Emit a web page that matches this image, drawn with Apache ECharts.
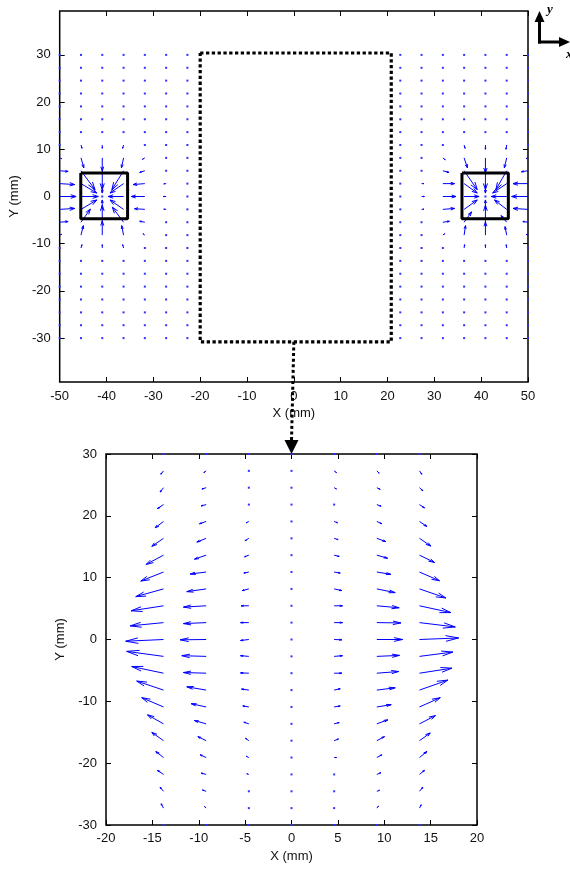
<!DOCTYPE html>
<html><head><meta charset="utf-8">
<script src="https://cdn.jsdelivr.net/npm/echarts@6/dist/echarts.min.js"></script>
<style>html,body{margin:0;padding:0;background:#fff;}#c{width:570px;height:869px;}</style>
</head><body><div id="c"></div>
<script>
// ---------------- DATA ----------------
const rowsY = [30, 27.27, 24.55, 21.82, 19.09, 16.36, 13.64, 10.91, 8.18, 5.45, 2.73, 0, -2.73, -5.45, -8.18, -10.91, -13.64, -16.36, -19.09, -21.82, -24.55, -27.27, -30];
const topColsX = [-50, -45.45, -40.91, -36.36, -31.82, -27.27, -22.73, 22.73, 27.27, 31.82, 36.36, 40.91, 45.45, 50];
// [x, y, u, v] vectors around the left source
const topArrowsLeft = [
  [-50, 10.91, 0.3, -0.1], [-50, 8.18, 0.4, -0.15], [-50, 5.45, 1.8, -0.15], [-50, 2.73, 3.2, -0.2], [-50, 0, 3.5, 0],
  [-50, -2.73, 3.2, 0.2], [-50, -5.45, 1.8, 0.15], [-50, -8.18, 0.4, 0.15], [-50, -10.91, 0.3, 0.1],
  [-45.45, 10.91, 0.2, -0.7], [-45.45, 8.18, 0.6, -2.1], [-45.45, 5.45, 3.0, -4.0], [-45.45, 2.73, 3.4, -2.0], [-45.45, 0, 3.7, 0],
  [-45.45, -2.73, 3.4, 2.0], [-45.45, -5.45, 2.0, 2.8], [-45.45, -8.18, 0.5, 2.0], [-45.45, -10.91, 0.2, 0.7],
  [-40.91, 13.64, 0, -0.3], [-40.91, 10.91, 0, -0.7], [-40.91, 8.18, 0, -2.8], [-40.91, 5.45, 0, -4.0], [-40.91, 2.73, 0, -2.0],
  [-40.91, 0, 0.2, 0.2], [-40.91, -2.73, 0, 2.0], [-40.91, -5.45, 0, 3.6], [-40.91, -8.18, 0, 3.0], [-40.91, -10.91, 0, 0.7], [-40.91, -13.64, 0, 0.3],
  [-36.36, 10.91, -0.2, -0.7], [-36.36, 8.18, -0.45, -2.1], [-36.36, 5.45, -2.5, -4.0], [-36.36, 2.73, -2.9, -2.0], [-36.36, 0, -3.3, 0],
  [-36.36, -2.73, -2.9, 2.0], [-36.36, -5.45, -2.4, 3.2], [-36.36, -8.18, -0.4, 2.0], [-36.36, -10.91, -0.2, 0.7],
  [-31.82, 10.91, -0.2, -0.1], [-31.82, 8.18, -0.5, -0.3], [-31.82, 5.45, -1.1, -0.35], [-31.82, 2.73, -2.5, -0.2], [-31.82, 0, -2.9, 0],
  [-31.82, -2.73, -2.2, 0.15], [-31.82, -5.45, -1.1, 0.2], [-31.82, -8.18, -0.4, 0.3], [-31.82, -10.91, -0.2, 0.1],
  [-27.27, 5.45, -0.3, -0.1], [-27.27, 2.73, -0.5, -0.05], [-27.27, 0, -0.6, 0], [-27.27, -2.73, -0.5, 0.05], [-27.27, -5.45, -0.3, 0.1]
];
// [x, y, u, v] vectors around the right source
const topArrowsRight = [
  [50, 10.91, -0.3, -0.1], [50, 8.18, -0.4, -0.15], [50, 5.45, -1.4, -0.2], [50, 2.73, -3.2, 0], [50, 0, -3.5, 0],
  [50, -2.73, -3.2, 0.2], [50, -5.45, -1.1, 0.15], [50, -8.18, -0.4, 0.15], [50, -10.91, -0.3, 0.1],
  [45.45, 10.91, -0.15, -0.9], [45.45, 8.18, -0.5, -2.1], [45.45, 5.45, -2.3, -4.0], [45.45, 2.73, -3.0, -2.0], [45.45, 0, -3.3, 0],
  [45.45, -2.73, -2.6, 2.0], [45.45, -5.45, -1.2, 1.4], [45.45, -8.18, -0.35, 1.8], [45.45, -10.91, -0.1, 0.7],
  [40.91, 13.64, 0, -0.3], [40.91, 10.91, 0, -0.9], [40.91, 8.18, 0, -3.2], [40.91, 5.45, 0, -4.0], [40.91, 2.73, 0, -2.0],
  [40.91, 0, -0.2, 0.2], [40.91, -2.73, 0, 2.0], [40.91, -5.45, 0, 3.6], [40.91, -8.18, 0, 2.8], [40.91, -10.91, 0, 0.7], [40.91, -13.64, 0, 0.3],
  [36.36, 10.91, 0.2, -0.7], [36.36, 8.18, 0.7, -2.1], [36.36, 5.45, 2.8, -4.0], [36.36, 2.73, 2.8, -2.0], [36.36, 0, 3.2, 0],
  [36.36, -2.73, 2.8, 2.0], [36.36, -5.45, 1.6, 2.2], [36.36, -8.18, 0.3, 2.0], [36.36, -10.91, 0.1, 0.7],
  [31.82, 10.91, 0.2, -0.1], [31.82, 8.18, 0.5, -0.4], [31.82, 5.45, 1.3, -0.35], [31.82, 2.73, 2.5, 0], [31.82, 0, 2.8, 0],
  [31.82, -2.73, 2.5, 0.2], [31.82, -5.45, 1.4, 0.2], [31.82, -8.18, 0.4, 0.3], [31.82, -10.91, 0.2, 0.1],
  [27.27, 5.45, 0.3, -0.1], [27.27, 2.73, 0.5, 0], [27.27, 0, 0.6, 0], [27.27, -2.73, 0.5, 0.05], [27.27, -5.45, 0.3, 0.1]
];
const leftBox = [-45.5, -35.5, -4.7, 5.0];   // x0, x1, y0, y1
const rightBox = [35.9, 45.8, -4.7, 5.0];
const zoomRect = [-20, 20.8, -30.8, 30.4];
const topYTicks = [-30, -20, -10, 0, 10, 20, 30];

const lowColsX = [-13.8, -9.2, -4.6, 0, 4.6, 9.2, 13.8];
const lowU = [
  [-0.1, -0.29, -0.36, -0.65, -0.90, -1.26, -1.87, -2.45, -2.99, -3.49, -3.60, -4.08, -3.97, -3.43, -2.89, -2.35, -1.73, -1.26, -0.83, -0.65, -0.36, -0.25, -0.1],
  [-0.05, -0.25, -0.46, -0.54, -0.72, -1.01, -1.26, -1.73, -2.09, -2.45, -2.45, -2.81, -2.63, -2.45, -2.09, -1.62, -1.26, -0.90, -0.65, -0.54, -0.40, -0.18, -0.05],
  [-0.05, -0.1, -0.1, -0.11, -0.29, -0.40, -0.46, -0.54, -0.72, -0.83, -0.90, -0.90, -0.90, -0.90, -0.79, -0.65, -0.54, -0.36, -0.29, -0.22, -0.1, -0.05, -0.05],
  [0, 0, 0, 0, 0, 0, 0, 0, 0, 0, 0, 0, 0, 0, 0, 0, 0, 0, 0, 0, 0, 0, 0],
  [0.05, 0.25, 0.25, 0.18, 0.36, 0.43, 0.54, 0.65, 0.83, 0.90, 0.90, 0.83, 0.90, 0.83, 0.65, 0.65, 0.54, 0.47, 0.25, 0.18, 0.1, 0.05, 0.05],
  [0.05, 0.25, 0.36, 0.46, 0.54, 0.97, 1.16, 1.51, 1.98, 2.41, 2.59, 2.78, 2.45, 2.35, 1.98, 1.55, 1.19, 0.83, 0.54, 0.43, 0.29, 0.18, 0.05],
  [0.1, 0.25, 0.36, 0.54, 0.79, 1.22, 1.62, 2.16, 2.84, 3.38, 3.86, 4.22, 3.60, 3.49, 3.06, 2.24, 1.73, 1.16, 0.79, 0.54, 0.36, 0.18, 0.1]
];
const lowV = [
  [-0.2, -0.54, -0.70, -0.65, -1.02, -1.29, -1.50, -1.46, -1.25, -0.81, -0.53, -0.28, 0.81, 1.08, 1.46, 1.50, 1.46, 1.34, 0.97, 0.65, 0.65, 0.70, 0.2],
  [-0.05, -0.27, -0.21, -0.21, -0.37, -0.60, -0.65, -0.32, -0.44, -0.21, -0.16, -0.05, 0.11, 0.11, 0.53, 0.53, 0.53, 0.65, 0.44, 0.21, 0.21, 0.27, 0.05],
  [0, -0.05, -0.05, -0.1, -0.21, -0.37, -0.27, -0.16, -0.27, 0, 0, -0.16, 0.11, 0.05, 0.16, 0.16, 0.27, 0.37, 0.21, 0.11, 0.05, 0.05, 0],
  [0, 0, 0, 0, 0, 0, 0, 0, 0, 0, 0, 0, 0, 0, 0, 0, 0, 0, 0, 0, 0, 0, 0],
  [0, -0.27, -0.21, -0.05, -0.21, -0.21, -0.21, -0.16, -0.27, 0, 0, -0.05, 0.11, 0, 0.21, 0.16, 0.21, 0.27, 0, 0.05, 0, 0, 0],
  [-0.05, -0.37, -0.27, -0.27, -0.37, -0.53, -0.49, -0.37, -0.60, -0.32, -0.05, 0, 0.16, 0.27, 0.37, 0.37, 0.65, 0.65, 0.44, 0.27, 0.16, 0.32, 0.05],
  [-0.2, -0.54, -0.49, -0.54, -0.81, -1.25, -1.18, -1.41, -1.46, -1.1, -0.70, 0.25, 0.70, 0.81, 1.62, 1.50, 1.34, 1.25, 0.97, 0.65, 0.65, 0.54, 0.2]
];

// ---------------- BUILD ----------------
const FONT = 'Liberation Sans, Arial, Helvetica, sans-serif';
const lookup = {};
topArrowsLeft.concat(topArrowsRight).forEach(a => { lookup[a[0] + '|' + a[1]] = a; });
const topData = [];
topColsX.forEach(x => rowsY.forEach(y => {
  const a = lookup[x + '|' + y];
  topData.push(a ? a.slice() : [x, y, 0, 0]);
}));
const lowData = [];
lowColsX.forEach((x, i) => rowsY.forEach((y, j) => lowData.push([x, y, lowU[i][j], lowV[i][j]])));

function quiverItem(params, api) {
  const x = api.value(0), y = api.value(1), u = api.value(2), v = api.value(3);
  const p0 = api.coord([x, y]);
  const p1 = api.coord([x + u, y + v]);
  const len = Math.hypot(p1[0] - p0[0], p1[1] - p0[1]);
  if (len < 2) {
    return { type: 'rect', shape: { x: p0[0] - 1, y: p0[1] - 1, width: 2, height: 2 }, style: { fill: '#3030ff' } };
  }
  const a = 0.33, b = 0.33;
  const h1 = api.coord([x + u - a * (u + b * v), y + v - a * (v - b * u)]);
  const h2 = api.coord([x + u - a * (u - b * v), y + v - a * (v + b * u)]);
  return { type: 'group', children: [
    { type: 'polyline', shape: { points: [p0, p1] }, style: { stroke: '#0000ff', lineWidth: 1, fill: null } },
    { type: 'polyline', shape: { points: [h1, p1, h2] }, style: { stroke: '#0000ff', lineWidth: 1, fill: null } }
  ]};
}
function rectLine(r) { return [[r[0], r[3]], [r[1], r[3]], [r[1], r[2]], [r[0], r[2]], [r[0], r[3]]]; }

const tick = { show: true, inside: true, length: 5, lineStyle: { color: '#000', width: 1 } };
const noLine = { show: false, onZero: false };
const lab = { color: '#111', fontSize: 13, fontFamily: FONT };
const nameStyle = { color: '#111', fontSize: 13, fontFamily: FONT };

const chart = echarts.init(document.getElementById('c'), null, { renderer: 'canvas' });
const option = {
  animation: false,
  backgroundColor: '#fff',
  grid: [
    { left: 56, top: 11, width: 472, height: 371, show: true, borderColor: '#000', borderWidth: 1.5, backgroundColor: '#fff' },
    { left: 106, top: 454, width: 371, height: 371, show: true, borderColor: '#000', borderWidth: 1.5, backgroundColor: '#fff' }
  ],
  xAxis: [
    { gridIndex: 0, type: 'value', min: -50, max: 50, interval: 10, axisLine: noLine, axisTick: tick, splitLine: { show: false },
      axisLabel: Object.assign({ margin: 8 }, lab), name: 'X (mm)', nameLocation: 'middle', nameGap: 25, nameTextStyle: nameStyle },
    { gridIndex: 0, type: 'value', position: 'top', min: -50, max: 50, interval: 10, axisLine: noLine, axisTick: tick, splitLine: { show: false }, axisLabel: { show: false } },
    { gridIndex: 1, type: 'value', min: -20, max: 20, interval: 5, axisLine: noLine, axisTick: tick, splitLine: { show: false },
      axisLabel: Object.assign({ margin: 7 }, lab), name: 'X (mm)', nameLocation: 'middle', nameGap: 25, nameTextStyle: nameStyle },
    { gridIndex: 1, type: 'value', position: 'top', min: -20, max: 20, interval: 5, axisLine: noLine, axisTick: tick, splitLine: { show: false }, axisLabel: { show: false } }
  ],
  yAxis: [
    { gridIndex: 0, type: 'value', min: -39.3, max: 39.3, axisLine: noLine,
      axisTick: Object.assign({ customValues: topYTicks }, tick), splitLine: { show: false },
      axisLabel: Object.assign({ margin: 9, customValues: topYTicks }, lab), name: 'Y (mm)', nameLocation: 'middle', nameGap: 27, nameTextStyle: nameStyle },
    { gridIndex: 0, type: 'value', position: 'right', min: -39.3, max: 39.3, axisLine: noLine,
      axisTick: Object.assign({ customValues: topYTicks }, tick), splitLine: { show: false }, axisLabel: { show: false } },
    { gridIndex: 1, type: 'value', min: -30, max: 30, interval: 10, axisLine: noLine, axisTick: tick, splitLine: { show: false },
      axisLabel: Object.assign({ margin: 9 }, lab), name: 'Y (mm)', nameLocation: 'middle', nameGap: 34, nameTextStyle: nameStyle },
    { gridIndex: 1, type: 'value', position: 'right', min: -30, max: 30, interval: 10, axisLine: noLine, axisTick: tick, splitLine: { show: false }, axisLabel: { show: false } }
  ],
  series: [
    { type: 'custom', xAxisIndex: 0, yAxisIndex: 0, renderItem: quiverItem, data: topData, encode: { x: 0, y: 1 }, silent: true, z: 3 },
    { type: 'custom', xAxisIndex: 2, yAxisIndex: 2, renderItem: quiverItem, data: lowData, encode: { x: 0, y: 1 }, silent: true, z: 3 },
    { type: 'line', xAxisIndex: 0, yAxisIndex: 0, data: rectLine(leftBox), symbol: 'none', silent: true, z: 4,
      lineStyle: { color: '#000', width: 3 } },
    { type: 'line', xAxisIndex: 0, yAxisIndex: 0, data: rectLine(rightBox), symbol: 'none', silent: true, z: 4,
      lineStyle: { color: '#000', width: 3 } },
    { type: 'line', xAxisIndex: 0, yAxisIndex: 0, data: rectLine(zoomRect), symbol: 'none', silent: true, z: 4,
      lineStyle: { color: '#000', width: 3.2, type: [3.3, 2.5], cap: 'butt' } }
  ]
};
chart.setOption(option);

// connector from zoom rectangle to lower plot + xy indicator
const pA = chart.convertToPixel({ xAxisIndex: 0, yAxisIndex: 0 }, [0, zoomRect[2]]);
const pB = chart.convertToPixel({ xAxisIndex: 2, yAxisIndex: 2 }, [0, 30]);
chart.setOption({
  graphic: [
    { type: 'line', shape: { x1: pA[0], y1: pA[1], x2: pB[0], y2: pB[1] - 13 }, style: { stroke: '#000', lineWidth: 3, lineDash: [3, 2.6] }, z: 10 },
    { type: 'polygon', shape: { points: [[pB[0] - 7, pB[1] - 14], [pB[0] + 7, pB[1] - 14], [pB[0], pB[1]]] }, style: { fill: '#000' }, z: 10 },
    { type: 'line', shape: { x1: 539.5, y1: 43.5, x2: 539.5, y2: 20 }, style: { stroke: '#000', lineWidth: 3 }, z: 10 },
    { type: 'polygon', shape: { points: [[534.5, 22], [544.5, 22], [539.5, 11]] }, style: { fill: '#000' }, z: 10 },
    { type: 'line', shape: { x1: 538, y1: 42, x2: 561, y2: 42 }, style: { stroke: '#000', lineWidth: 3 }, z: 10 },
    { type: 'polygon', shape: { points: [[559, 37], [559, 47], [570, 42]] }, style: { fill: '#000' }, z: 10 },
    { type: 'text', x: 547, y: 3, style: { text: 'y', fontFamily: 'Liberation Serif, Times New Roman, serif', fontStyle: 'italic', fontWeight: 'bold', fontSize: 13, fill: '#000' }, z: 10 },
    { type: 'text', x: 566, y: 48, style: { text: 'x', fontFamily: 'Liberation Serif, Times New Roman, serif', fontStyle: 'italic', fontWeight: 'bold', fontSize: 13, fill: '#000' }, z: 10 }
  ]
});
</script></body></html>
